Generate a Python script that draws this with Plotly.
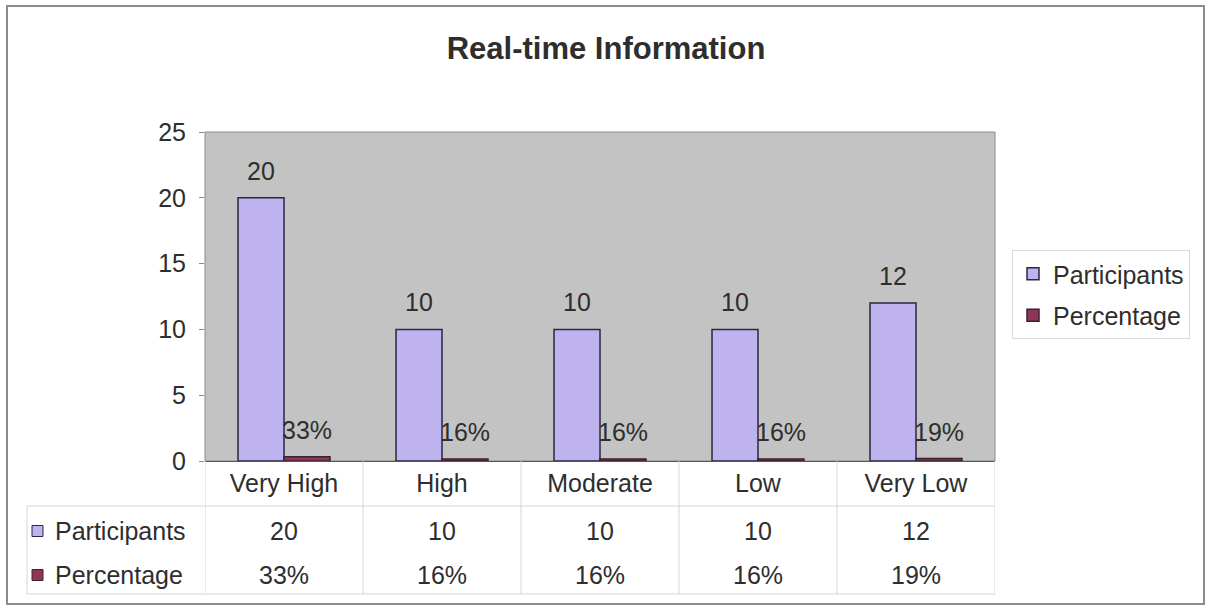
import plotly.graph_objects as go

# --- data -------------------------------------------------------------
categories = ["Very High", "High", "Moderate", "Low", "Very Low"]
participants = [20, 10, 10, 10, 12]
percentage = [0.33, 0.16, 0.16, 0.16, 0.19]
y_ticks = [0, 5, 10, 15, 20, 25]

pct_labels = [f"{round(v * 100)}%" for v in percentage]
part_labels = [str(v) for v in participants]

# --- styling ----------------------------------------------------------
FONT = "Liberation Sans, Arial, sans-serif"
TXT = "#2e2e2e"
PART_FILL = "#beb3ee"
PCT_FILL = "#8f3656"
BAR_EDGE = "#2a2840"
PLOT_BG = "#c3c3c3"
GRID = "#d6d6d6"

W, H = 1206, 611
L, R, T, B = 205, 995, 132, 461      # plot area in pixels
BARGAP = 0.418


def px_x(p):
    return (p - L) / (R - L)


def px_y(p):
    return (B - p) / (B - T)


fig = go.Figure()
fig.add_bar(x=categories, y=participants, name="Participants", legendgroup="p",
            marker=dict(color=PART_FILL, line=dict(color=BAR_EDGE, width=1.5)))
fig.add_bar(x=categories, y=percentage, name="Percentage", legendgroup="q",
            marker=dict(color=PCT_FILL, line=dict(color="#3a2030", width=1.5)))

annotations = []
shapes = []

# value labels above each bar
half = (1 - BARGAP) / 4
for i in range(len(categories)):
    annotations.append(dict(x=i - half, y=participants[i], xref="x", yref="y",
                            text=part_labels[i], showarrow=False, yshift=27,
                            font=dict(size=25, color=TXT, family=FONT)))
    annotations.append(dict(x=i + half, y=percentage[i], xref="x", yref="y",
                            text=pct_labels[i], showarrow=False, yshift=27,
                            font=dict(size=25, color=TXT, family=FONT)))

# data table rows under the axis
row_y = {"Participants": 531, "Percentage": 575}
for i in range(len(categories)):
    annotations.append(dict(x=i, y=px_y(row_y["Participants"]), xref="x", yref="paper",
                            text=part_labels[i], showarrow=False, yanchor="middle",
                            font=dict(size=25, color=TXT, family=FONT)))
    annotations.append(dict(x=i, y=px_y(row_y["Percentage"]), xref="x", yref="paper",
                            text=pct_labels[i], showarrow=False, yanchor="middle",
                            font=dict(size=25, color=TXT, family=FONT)))

# row headers with colour keys
for name, fill, edge in [("Participants", PART_FILL, BAR_EDGE), ("Percentage", PCT_FILL, "#3a2030")]:
    yc = row_y[name]
    shapes.append(dict(type="rect", xref="paper", yref="paper",
                       x0=px_x(32), x1=px_x(43), y0=px_y(yc - 5.5), y1=px_y(yc + 5.5),
                       fillcolor=fill, line=dict(color=edge, width=1)))
    annotations.append(dict(x=px_x(53), y=px_y(yc), xref="paper", yref="paper",
                            text=name, showarrow=False, xanchor="left", yanchor="middle",
                            font=dict(size=25, color=TXT, family=FONT)))

# table grid
grid_line = dict(color=GRID, width=1)
for yy, x0 in [(506, 27), (594, 27)]:
    shapes.append(dict(type="line", xref="paper", yref="paper",
                       x0=px_x(x0), x1=1, y0=px_y(yy), y1=px_y(yy), line=grid_line))
shapes.append(dict(type="line", xref="paper", yref="paper",
                   x0=px_x(27), x1=px_x(27), y0=px_y(506), y1=px_y(594), line=grid_line))
for k in range(len(categories) + 1):
    shapes.append(dict(type="line", xref="x", yref="paper",
                       x0=k - 0.5, x1=k - 0.5, y0=0, y1=px_y(594), line=grid_line))

# plot area frame
shapes.append(dict(type="rect", xref="paper", yref="paper", x0=0, x1=1, y0=0, y1=1,
                   line=dict(color="#8a8a8a", width=1), layer="below"))

# outer chart border
shapes.append(dict(type="rect", xref="paper", yref="paper",
                   x0=px_x(7), x1=px_x(1204), y0=px_y(6), y1=px_y(604),
                   line=dict(color="#8c8c8c", width=2)))

fig.update_layout(
    width=W, height=H,
    margin=dict(l=L, r=W - R, t=T, b=H - B),
    paper_bgcolor="white", plot_bgcolor=PLOT_BG,
    barmode="group", bargap=BARGAP, bargroupgap=0,
    font=dict(family=FONT, size=25, color=TXT),
    title=dict(text="<b>Real-time Information</b>", x=606 / W, xanchor="center",
               y=1 - 48 / H, yanchor="middle", font=dict(size=31, color=TXT, family=FONT)),
    legend=dict(x=px_x(1012), y=px_y(250), xanchor="left", yanchor="top",
                bgcolor="white", bordercolor="#d9d9d9", borderwidth=1,
                tracegroupgap=6, itemwidth=30,
                font=dict(size=25, color=TXT, family=FONT)),
    xaxis=dict(type="category", range=[-0.5, len(categories) - 0.5],
               showgrid=False, zeroline=False, showline=True, linecolor="#555555",
               ticks="", ticklabelstandoff=0,
               tickfont=dict(size=25, color=TXT, family=FONT)),
    yaxis=dict(range=[0, 25], tickvals=y_ticks, showgrid=False, zeroline=False,
               showline=False, ticks="outside", ticklen=5, tickcolor="#8a8a8a",
               ticklabelstandoff=8,
               tickfont=dict(size=25, color=TXT, family=FONT)),
    annotations=annotations, shapes=shapes,
)

fig.write_html("out.html")
